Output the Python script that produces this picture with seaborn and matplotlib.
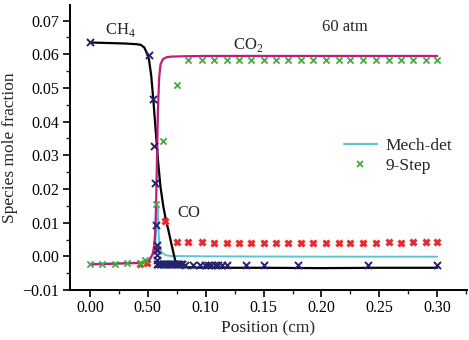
import matplotlib
matplotlib.use("Agg")
import matplotlib.pyplot as plt
import seaborn as sns
from matplotlib.lines import Line2D
from matplotlib.ticker import MultipleLocator

# ----------------------------
# data
# ----------------------------
ch4_x = [0, 0.01, 0.02, 0.03, 0.04, 0.044, 0.047, 0.049, 0.051, 0.053, 0.055, 0.057,
         0.059, 0.061, 0.0634, 0.0655, 0.0677, 0.0705, 0.0735, 0.076, 0.08, 0.10, 0.15,
         0.20, 0.25, 0.30]
ch4_y = [0.0635, 0.0634, 0.0633, 0.0632, 0.0630, 0.0628, 0.0620, 0.0605, 0.0585, 0.0535,
         0.0455, 0.0365, 0.0277, 0.0205, 0.0148, 0.0110, 0.0079, 0.0035, -0.0010, -0.0028,
         -0.0032, -0.0034, -0.0034, -0.0035, -0.0034, -0.0034]

co2_x = [0, 0.01, 0.02, 0.03, 0.04, 0.047, 0.051, 0.054, 0.0555, 0.0565, 0.0572, 0.058,
         0.0588, 0.0598, 0.061, 0.063, 0.066, 0.07, 0.08, 0.10, 0.20, 0.30]
co2_y = [-0.0024, -0.0023, -0.0022, -0.0021, -0.0020, -0.0018, -0.0012, 0.0005, 0.0030,
         0.0080, 0.0160, 0.0300, 0.0440, 0.0530, 0.0570, 0.0585, 0.0591, 0.0593, 0.0594,
         0.0595, 0.0595, 0.0595]

co_x = [0, 0.02, 0.04, 0.048, 0.052, 0.055, 0.0568, 0.0578, 0.0585, 0.0592, 0.060, 0.0615,
        0.063, 0.066, 0.07, 0.10, 0.20, 0.30]
co_y = [-0.0022, -0.0021, -0.0019, -0.0017, -0.0010, 0.0010, 0.0050, 0.0120, 0.0145, 0.0080,
        0.0032, 0.0015, 0.0008, 0.0003, 0.0001, 0.0, -0.0001, -0.0001]

step_ch4_x = [0.0, 0.051, 0.0547, 0.0556, 0.0562, 0.0570, 0.0576, 0.0576, 0.0576, 0.0576,
              0.058, 0.0592, 0.0604, 0.0616, 0.0628, 0.064, 0.0652, 0.0664, 0.0676, 0.0688,
              0.070, 0.0712, 0.0724, 0.0736, 0.0748, 0.076, 0.0772, 0.0784, 0.0796,
              0.082, 0.089, 0.095, 0.0994, 0.102, 0.105, 0.108, 0.111, 0.114, 0.118,
              0.135, 0.150, 0.180, 0.240, 0.300]
step_ch4_y = [0.0635, 0.0598, 0.0466, 0.0328, 0.0218, 0.0093, 0.0034, 0.0019, 0.0005, -0.0010,
              -0.0023, -0.0023, -0.0023, -0.0023, -0.0023, -0.0023, -0.0023, -0.0023, -0.0023,
              -0.0023, -0.0023, -0.0023, -0.0023, -0.0023, -0.0023, -0.0023, -0.0023, -0.0023,
              -0.0023, -0.0025, -0.0025, -0.0025, -0.0025, -0.0025, -0.0025, -0.0025, -0.0025,
              -0.0025, -0.0025, -0.0025, -0.0025, -0.0025, -0.0025, -0.0025]

step_co2_x = [0, 0.0105, 0.0216, 0.0317, 0.0432, 0.0475, 0.057, 0.0634, 0.075, 0.085, 0.0965,
              0.107, 0.118, 0.129, 0.139, 0.150, 0.161, 0.171, 0.182, 0.193, 0.204, 0.215,
              0.225, 0.236, 0.247, 0.258, 0.269, 0.279, 0.290, 0.300]
step_co2_y = [-0.0022, -0.0022, -0.0022, -0.0021, -0.0021, -0.0010, 0.0156, 0.0343, 0.0509,
              0.0582, 0.0582, 0.0582, 0.0582, 0.0582, 0.0582, 0.0582, 0.0582, 0.0582, 0.0582,
              0.0582, 0.0582, 0.0582, 0.0582, 0.0582, 0.0582, 0.0582, 0.0582, 0.0582, 0.0582,
              0.0582]

step_co_x = [0.0432, 0.049, 0.0575, 0.0648, 0.075, 0.085, 0.0965, 0.107, 0.118, 0.129, 0.139,
             0.150, 0.161, 0.171, 0.182, 0.193, 0.204, 0.215, 0.225, 0.236, 0.247, 0.258,
             0.269, 0.279, 0.290, 0.300]
step_co_y = [-0.0022, -0.0020, 0.0022, 0.0106, 0.0044, 0.0043, 0.0042, 0.0041, 0.0041, 0.0040,
             0.0039, 0.0040, 0.0040, 0.0041, 0.0040, 0.0041, 0.0041, 0.0040, 0.0041, 0.0041,
             0.0040, 0.0042, 0.0041, 0.0042, 0.0043, 0.0043]

x_ticks = [0.00, 0.05, 0.10, 0.15, 0.20, 0.25, 0.30]
x_ticklabels = ["0.00", "0.50", "0.10", "0.15", "0.20", "0.25", "0.30"]
y_ticks = [-0.01, 0.00, 0.01, 0.02, 0.03, 0.04, 0.05, 0.06, 0.07]
y_ticklabels = ["\u22120.01", "0.00", "0.01", "0.02", "0.03", "0.04", "0.05", "0.06", "0.07"]

# ----------------------------
# style
# ----------------------------
sns.set_style("ticks")
plt.rcParams['font.family'] = ['Liberation Serif', 'DejaVu Serif']
plt.rcParams['mathtext.fontset'] = 'custom'
plt.rcParams['mathtext.rm'] = 'Liberation Serif'

fig = plt.figure(figsize=(4.69, 3.40), dpi=100)
ax = fig.add_axes([0.149, 0.147, 0.847, 0.838])

# mechanism lines
sns.lineplot(x=co_x, y=co_y, color='#5cc6d0', lw=1.4, sort=False, estimator=None, ax=ax)
sns.lineplot(x=ch4_x, y=ch4_y, color='black', lw=1.6, sort=False, estimator=None, ax=ax)
sns.lineplot(x=co2_x, y=co2_y, color='#c21a7e', lw=1.6, sort=False, estimator=None, ax=ax)

# 9-step markers
sns.scatterplot(x=step_co_x, y=step_co_y, marker='X', color='#e8282c', s=28,
                edgecolor='#e8282c', linewidth=0.4, ax=ax, zorder=4)
sns.scatterplot(x=step_co2_x, y=step_co2_y, marker='x', color='#3fae3f', s=20,
                linewidth=1.3, ax=ax, zorder=4)
sns.scatterplot(x=step_ch4_x, y=step_ch4_y, marker='x', color='#24246e', s=26,
                linewidth=1.4, ax=ax, zorder=5)

ax.set_xlim(-0.0173, 0.3258)
ax.set_ylim(-0.01, 0.0746)
ax.set_xticks(x_ticks)
ax.set_xticklabels(x_ticklabels)
ax.set_yticks(y_ticks)
ax.set_yticklabels(y_ticklabels)
ax.xaxis.set_minor_locator(MultipleLocator(0.025))
ax.yaxis.set_minor_locator(MultipleLocator(0.005))
ax.tick_params(which='major', direction='out', length=5, width=1.2, labelsize=11.5,
               colors='black', pad=2.5)
ax.tick_params(which='minor', direction='out', length=3, width=1.0)
sns.despine(ax=ax)
for s in ['left', 'bottom']:
    ax.spines[s].set_linewidth(1.4)
    ax.spines[s].set_color('black')

ax.set_xlabel("Position (cm)", fontsize=12.5, labelpad=3)
ax.set_ylabel("Species mole fraction", fontsize=12.5, labelpad=3)

ax.text(0.026, 0.0672, "CH$_4$", fontsize=12, ha='center', va='center')
ax.text(0.1366, 0.0628, "CO$_2$", fontsize=12, ha='center', va='center')
ax.text(0.220, 0.0681, "60 atm", fontsize=12, ha='center', va='center')
ax.text(0.085, 0.0129, "CO", fontsize=12, ha='center', va='center')

handles = [Line2D([], [], color='#5cc6d0', lw=1.6),
           Line2D([], [], color='#3fae3f', marker='x', ls='none', markersize=5, mew=1.3)]
ax.legend(handles, ["Mech-det", "9-Step"], loc='center left', bbox_to_anchor=(0.65, 0.47),
          frameon=False, fontsize=12.5, handlelength=1.9, labelspacing=0.2, handletextpad=0.5)

fig.savefig("out.png", dpi=100)
